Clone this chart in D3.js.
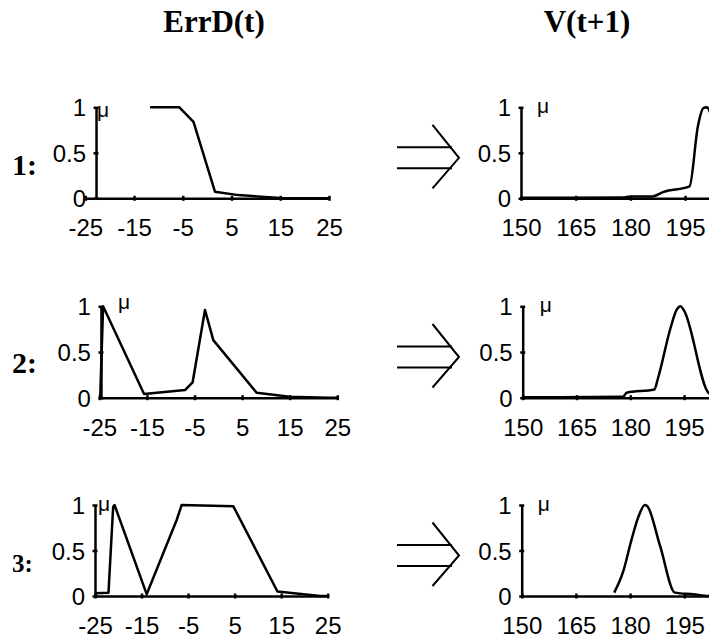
<!DOCTYPE html>
<html>
<head>
<meta charset="utf-8">
<script src="https://cdn.jsdelivr.net/npm/d3@7"></script>
<style>
  body { margin: 0; background: #fff; }
  svg { display: block; }
</style>
</head>
<body>
<div id="chart"></div>
<script>
// values
var titles = ['ErrD(t)', 'V(t+1)'];
var rowLabels = ['1:', '2:', '3:'];
var errTicks = [-25, -15, -5, 5, 15, 25];
var vTicks = [150, 165, 180, 195];   // 210 lies past the right edge
var muTicks = [0, 0.5, 1];

var errD1 = [[-11.7, 1], [-5.7, 1], [-2.8, 0.84], [1.6, 0.073], [6.4, 0.035], [15, 0.003], [25, 0]];
var errD2 = [[-24.8, 0.02], [-24.2, 1], [-15.6, 0.04], [-7, 0.084], [-5.4, 0.167], [-2.8, 0.96],
             [-1.05, 0.63], [8.05, 0.055], [15, 0.01], [23.1, 0], [25, 0]];
var errD3 = [[-25, 0.03], [-22.1, 0.037], [-21.1, 0.98], [-20.8, 1], [-13.9, 0.02], [-7.45, 0.835],
             [-6.38, 1], [4.73, 0.985], [14.2, 0.05], [23.4, 0], [25, 0]];

var vNext1 = [[150, 0.005], [178, 0.008], [180, 0.02], [186, 0.02], [189.1, 0.07], [196.2, 0.13],
              [198.5, 0.79], [200, 0.99], [201, 1], [201.6, 0.97], [205, 0.3], [208, 0.03], [210, 0.01]];
var vNext2 = [[150, 0.005], [178, 0.01], [179, 0.055], [186.7, 0.09], [187.7, 0.21], [191.2, 0.76],
              [192.9, 0.96], [194, 1], [194.9, 0.96], [201.9, 0.05], [204, 0.02], [210, 0]];
var vNext3 = [[175.6, 0.037], [178.1, 0.27], [180.4, 0.62], [182.3, 0.87], [184.1, 1], [184.7, 0.99],
              [188.3, 0.55], [192.4, 0.037], [197.5, 0.018], [201.8, 0], [210, 0]];

var errSeries = [errD1, errD2, errD3];
var vSeries = [vNext1, vNext2, vNext3];

// layout
var width = 709, height = 641;
var rows = [
  { y0: 198.3, y1: 107.3, labelY: 175, labelSize: 30 },
  { y0: 397.7, y1: 306.3, labelY: 373, labelSize: 30 },
  { y0: 596, y1: 505, labelY: 572, labelSize: 25 }
];
var leftX = [[85.3, 329], [99.3, 337.3], [95, 327.7]];
var leftYAxisAt = [-22.8, -24.65, -25];
var rightX0 = [521, 522.7, 521.7];
var rightStep = [54.7, 53.8, 54.2];
var muLeft = [[1, 10], [17, 3], [3, 6]];
var muRight = [[16, 6], [17, 6], [16, 6]];

var svg = d3.select('#chart')
  .append('svg')
    .attr('width', width)
    .attr('height', height);

svg.append('rect')
  .attr('width', width)
  .attr('height', height)
  .attr('fill', '#fff');

svg.selectAll('text.title')
  .data(titles)
  .enter().append('text')
    .classed('title', true)
    .attr('x', function (d, i) { return i === 0 ? 214 : 587; })
    .attr('y', 32)
    .attr('text-anchor', 'middle')
    .attr('font-family', '"Liberation Serif", "Times New Roman", serif')
    .attr('font-weight', 'bold')
    .attr('font-size', 31)
    .text(function (d) { return d; });

function drawPanel(x, y, data, yAxisAt, ticks, mu, curve) {
  var g = svg.append('g');

  var xAxis = g.append('g')
    .attr('transform', 'translate(0,' + y.range()[0] + ')')
    .call(d3.axisBottom(x)
      .tickValues(ticks)
      .tickSizeOuter(0)
      .tickSizeInner(0)
      .tickPadding(21)
      .tickFormat(function (d) { return String(d); }));

  var yAxis = g.append('g')
    .attr('transform', 'translate(' + x(yAxisAt) + ',0)')
    .call(d3.axisLeft(y)
      .tickValues(muTicks)
      .tickSizeOuter(0)
      .tickSizeInner(0)
      .tickPadding(10)
      .tickFormat(d3.format('~g')));

  [xAxis, yAxis].forEach(function (a) {
    a.attr('font-family', '"Liberation Sans", Arial, sans-serif')
     .attr('font-size', 24);
    a.select('.domain')
      .attr('stroke', '#000')
      .attr('stroke-width', 2.5);
    a.selectAll('text').attr('fill', '#000');
  });

  xAxis.selectAll('.tick line')
    .attr('stroke', '#000')
    .attr('stroke-width', 2.5)
    .attr('y1', -2.5)
    .attr('y2', 2.5);
  yAxis.selectAll('.tick line')
    .attr('stroke', '#000')
    .attr('stroke-width', 2.5)
    .attr('x1', -2.5)
    .attr('x2', 2.5);
  yAxis.selectAll('.tick text').attr('dy', '0.36em');

  g.append('text')
    .attr('x', x(yAxisAt) + mu[0])
    .attr('y', y(1) + mu[1])
    .attr('font-family', '"Liberation Sans", Arial, sans-serif')
    .attr('font-size', 21)
    .text('\u03bc');

  var line = d3.line()
    .x(function (d) { return x(d[0]); })
    .y(function (d) { return y(d[1]); })
    .curve(curve);

  g.append('path')
    .datum(data)
    .attr('d', line)
    .attr('fill', 'none')
    .attr('stroke', '#000')
    .attr('stroke-width', 2.5)
    .attr('stroke-linejoin', 'round');
}

function drawArrow(cy) {
  var a = svg.append('g')
    .attr('fill', 'none')
    .attr('stroke', '#000')
    .attr('stroke-width', 2);
  a.append('path').attr('d', 'M397,' + (cy - 10.5) + 'H452');
  a.append('path').attr('d', 'M397,' + (cy + 10.5) + 'H452');
  a.append('path').attr('d', 'M432.5,' + (cy - 33) + 'L459,' + cy + 'L432.5,' + (cy + 30.5));
}

rows.forEach(function (r, i) {
  var y = d3.scaleLinear().domain([0, 1]).range([r.y0, r.y1]);

  var xl = d3.scaleLinear().domain([-25, 25]).range(leftX[i]);
  drawPanel(xl, y, errSeries[i], leftYAxisAt[i], errTicks, muLeft[i], d3.curveLinear);

  var xr = d3.scaleLinear().domain([150, 210])
    .range([rightX0[i], rightX0[i] + 4 * rightStep[i]]);
  drawPanel(xr, y, vSeries[i], 150, vTicks, muRight[i], d3.curveMonotoneX);

  drawArrow(y(0.5) + 5);

  svg.append('text')
    .attr('x', 12)
    .attr('y', r.labelY)
    .attr('font-family', '"Liberation Serif", "Times New Roman", serif')
    .attr('font-weight', 'bold')
    .attr('font-size', r.labelSize)
    .text(rowLabels[i]);
});
</script>
</body>
</html>
